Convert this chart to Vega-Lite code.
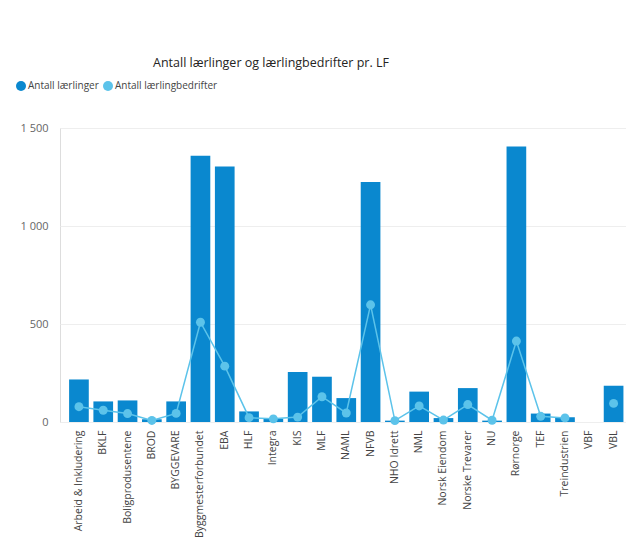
{
  "$schema": "https://vega.github.io/schema/vega-lite/v6.json",
  "autosize": {"type": "none"},
  "padding": {"left": 60, "top": 128, "right": 0, "bottom": 115},
  "width": 566,
  "height": 294,
  "background": "white",
  "title": {
    "text": "Antall lærlinger og lærlingbedrifter pr. LF",
    "font": "Open Sans",
    "fontSize": 12.5,
    "fontWeight": "normal",
    "color": "#252423",
    "anchor": "middle",
    "dx": -72,
    "offset": 12
  },
  "data": {
    "values": [
      {"LF": "Arbeid & Inkludering", "Laerlinger": 217, "Bedrifter": 78},
      {"LF": "BKLF", "Laerlinger": 105, "Bedrifter": 60},
      {"LF": "Boligprodusentene", "Laerlinger": 110, "Bedrifter": 43},
      {"LF": "BROD", "Laerlinger": 14, "Bedrifter": 8},
      {"LF": "BYGGEVARE", "Laerlinger": 105, "Bedrifter": 44},
      {"LF": "Byggmesterforbundet", "Laerlinger": 1359, "Bedrifter": 509},
      {"LF": "EBA", "Laerlinger": 1303, "Bedrifter": 285},
      {"LF": "HLF", "Laerlinger": 54, "Bedrifter": 22},
      {"LF": "Integra", "Laerlinger": 17, "Bedrifter": 16},
      {"LF": "KIS", "Laerlinger": 255, "Bedrifter": 25},
      {"LF": "MLF", "Laerlinger": 231, "Bedrifter": 129},
      {"LF": "NAML", "Laerlinger": 122, "Bedrifter": 46},
      {"LF": "NFVB", "Laerlinger": 1225, "Bedrifter": 598},
      {"LF": "NHO Idrett", "Laerlinger": 7, "Bedrifter": 7},
      {"LF": "NML", "Laerlinger": 155, "Bedrifter": 82},
      {"LF": "Norsk Eiendom", "Laerlinger": 20, "Bedrifter": 10},
      {"LF": "Norske Trevarer", "Laerlinger": 173, "Bedrifter": 89},
      {"LF": "NU", "Laerlinger": 7, "Bedrifter": 9},
      {"LF": "Rørnorge", "Laerlinger": 1406, "Bedrifter": 413},
      {"LF": "TEF", "Laerlinger": 43, "Bedrifter": 29},
      {"LF": "Treindustrien", "Laerlinger": 24, "Bedrifter": 21},
      {"LF": "VBF", "Laerlinger": null, "Bedrifter": null},
      {"LF": "VBL", "Laerlinger": 185, "Bedrifter": 95}
    ]
  },
  "encoding": {
    "x": {
      "field": "LF",
      "type": "nominal",
      "sort": null,
      "scale": {
        "domain": ["Arbeid & Inkludering", "BKLF", "Boligprodusentene", "BROD", "BYGGEVARE", "Byggmesterforbundet", "EBA", "HLF", "Integra", "KIS", "MLF", "NAML", "NFVB", "NHO Idrett", "NML", "Norsk Eiendom", "Norske Trevarer", "NU", "Rørnorge", "TEF", "Treindustrien", "VBF", "VBL"],
        "paddingInner": 0.19,
        "paddingOuter": 0.24,
        "align": 0.78
      },
      "axis": {
        "title": null,
        "labelAngle": -90,
        "labelAlign": "right",
        "labelBaseline": "middle",
        "labelPadding": 8,
        "labelLimit": 200,
        "labelFont": "Open Sans",
        "labelFontSize": 10.5,
        "labelColor": "#444444",
        "ticks": false,
        "domain": false,
        "grid": false
      }
    }
  },
  "layer": [
    {
      "mark": {"type": "bar"},
      "encoding": {
        "y": {
          "field": "Laerlinger",
          "type": "quantitative",
          "scale": {"domain": [0, 1500], "nice": false},
          "axis": {
            "title": null,
            "values": [0, 500, 1000, 1500],
            "labelExpr": "replace(format(datum.value, ','), ',', ' ')",
            "labelPadding": 12,
            "labelFont": "Open Sans",
            "labelFontSize": 11,
            "labelColor": "#666666",
            "ticks": false,
            "domain": false,
            "gridColor": "#eeeeee",
            "gridWidth": 1
          }
        },
        "color": {
          "datum": "Antall lærlinger",
          "type": "nominal",
          "scale": {
            "domain": ["Antall lærlinger", "Antall lærlingbedrifter"],
            "range": ["#0A88CF", "#5CC3EA"]
          },
          "legend": {
            "title": null,
            "orient": "none",
            "direction": "horizontal",
            "legendX": -44,
            "legendY": -47,
            "symbolType": "circle",
            "symbolSize": 100,
            "symbolStrokeWidth": 0,
            "labelFont": "Open Sans",
            "labelFontSize": 10,
            "labelColor": "#444444",
            "labelOffset": 2,
            "columnPadding": 4
          }
        }
      }
    },
    {
      "mark": {"type": "line", "strokeWidth": 1.5, "point": {"filled": true, "size": 80}},
      "encoding": {
        "y": {"field": "Bedrifter", "type": "quantitative"},
        "color": {"datum": "Antall lærlingbedrifter", "type": "nominal"}
      }
    }
  ]
}
